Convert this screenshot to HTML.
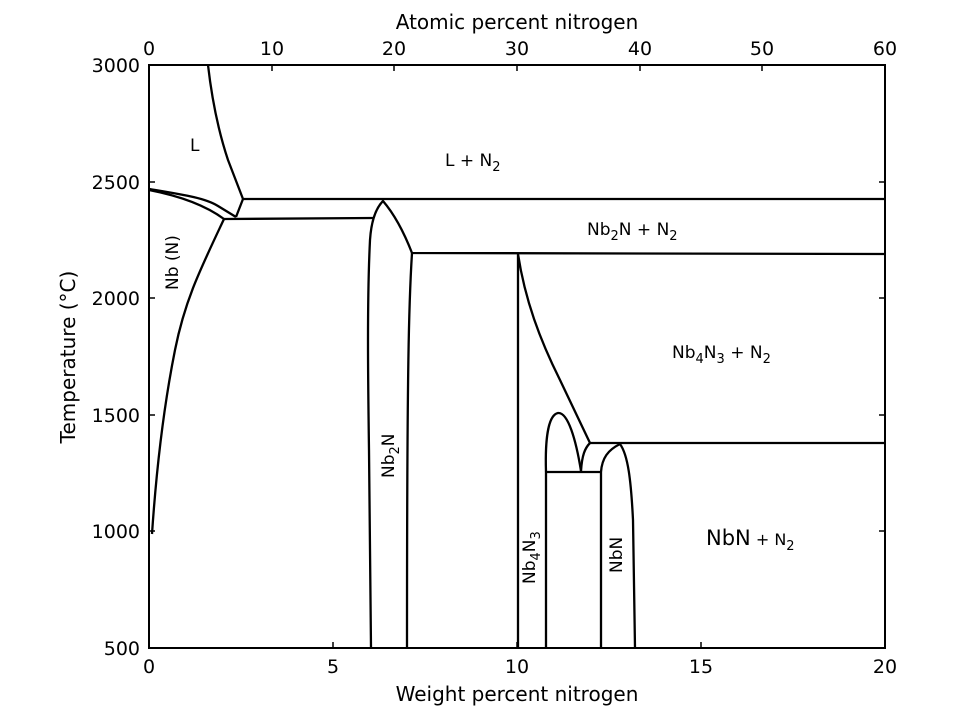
<!DOCTYPE html>
<html><head><meta charset="utf-8"><style>html,body{margin:0;padding:0;background:#fff}svg{display:block}</style></head><body>
<svg width="960" height="720" viewBox="0 0 960 720" xmlns="http://www.w3.org/2000/svg" font-family="DejaVu Sans, Liberation Sans, sans-serif">
<rect width="960" height="720" fill="#fff"/>
<g fill="none" stroke="#000" stroke-width="2.3" stroke-linejoin="round">
<path d="M208,65 C212,100 218,130 228,160 L243,199 L885,199"/>
<path d="M243,199 L236,217"/>
<path d="M149,189 C185,195 205,198 218,206 L236,217"/>
<path d="M149,190 C180,196 205,205 224,219"/>
<path d="M224,219 L373,218"/>
<path d="M224,219 C200,270 185,300 175,350 C165,400 157,460 152,534"/>
<path d="M371,648 L369,450 C368,380 367,300 370,240 C371,225 374,210 383,201 C395,215 405,235 412,253 L885,254"/>
<path d="M412,253 C409,300 407,360 407,648"/>
<path d="M518,648 L518,254 C525,300 540,340 560,380 L590,443 L884,443"/>
<path d="M546,648 L546,472 L601,472"/>
<path d="M546,472 C545,440 548,415 558,413 C568,412 576,440 581,471"/>
<path d="M581,471 C582,455 585,448 590,443"/>
<path d="M601,648 L601,472 C602,458 608,450 620,444 C628,455 631,480 633,520 L635,648"/>
</g>
<rect x="149" y="65" width="736" height="583" fill="none" stroke="#000" stroke-width="2"/>
<g stroke="#000" stroke-width="1.5">
<path d="M149,648v-6M333,648v-6M517,648v-6M701,648v-6M885,648v-6"/>
<path d="M149,65v6M272,65v6M394,65v6M517,65v6M640,65v6M762,65v6M885,65v6"/>
<path d="M149,531h6M149,415h6M149,298h6M149,182h6M885,531h-6M885,415h-6M885,298h-6M885,182h-6"/>
</g>
<g font-size="19" fill="#000">
<g text-anchor="middle">
<text x="149" y="673">0</text><text x="333" y="673">5</text><text x="517" y="673">10</text><text x="701" y="673">15</text><text x="885" y="673">20</text>
<text x="149" y="55">0</text><text x="272" y="55">10</text><text x="394" y="55">20</text><text x="517" y="55">30</text><text x="640" y="55">40</text><text x="762" y="55">50</text><text x="885" y="55">60</text>
<text x="517" y="29" font-size="20">Atomic percent nitrogen</text>
<text x="517" y="701" font-size="20">Weight percent nitrogen</text>
</g>
<g text-anchor="end">
<text x="140" y="655">500</text><text x="140" y="538">1000</text><text x="140" y="422">1500</text><text x="140" y="305">2000</text><text x="140" y="189">2500</text><text x="140" y="72">3000</text>
</g>
<text transform="translate(75,357) rotate(-90)" text-anchor="middle" font-size="20">Temperature (°C)</text>
</g>
<g font-size="17" fill="#000">
<text x="190" y="151">L</text>
<text x="445" y="166">L + N<tspan font-size="13" dy="5">2</tspan></text>
<text x="587" y="235">Nb<tspan font-size="13" dy="5">2</tspan><tspan dy="-5">N + N</tspan><tspan font-size="13" dy="5">2</tspan></text>
<text x="672" y="358">Nb<tspan font-size="13" dy="5">4</tspan><tspan dy="-5">N</tspan><tspan font-size="13" dy="5">3</tspan><tspan dy="-5"> + N</tspan><tspan font-size="13" dy="5">2</tspan></text>
<text x="706" y="545" font-size="21">NbN<tspan font-size="16"> + N</tspan><tspan font-size="13" dy="5">2</tspan></text>
<text transform="translate(178,290) rotate(-90)">Nb (N)</text>
<text transform="translate(394,478) rotate(-90)">Nb<tspan font-size="13" dy="5">2</tspan><tspan dy="-5">N</tspan></text>
<text transform="translate(535,584) rotate(-90)">Nb<tspan font-size="13" dy="5">4</tspan><tspan dy="-5">N</tspan><tspan font-size="13" dy="5">3</tspan></text>
<text transform="translate(622,573) rotate(-90)">NbN</text>
</g>
</svg>
</body></html>
